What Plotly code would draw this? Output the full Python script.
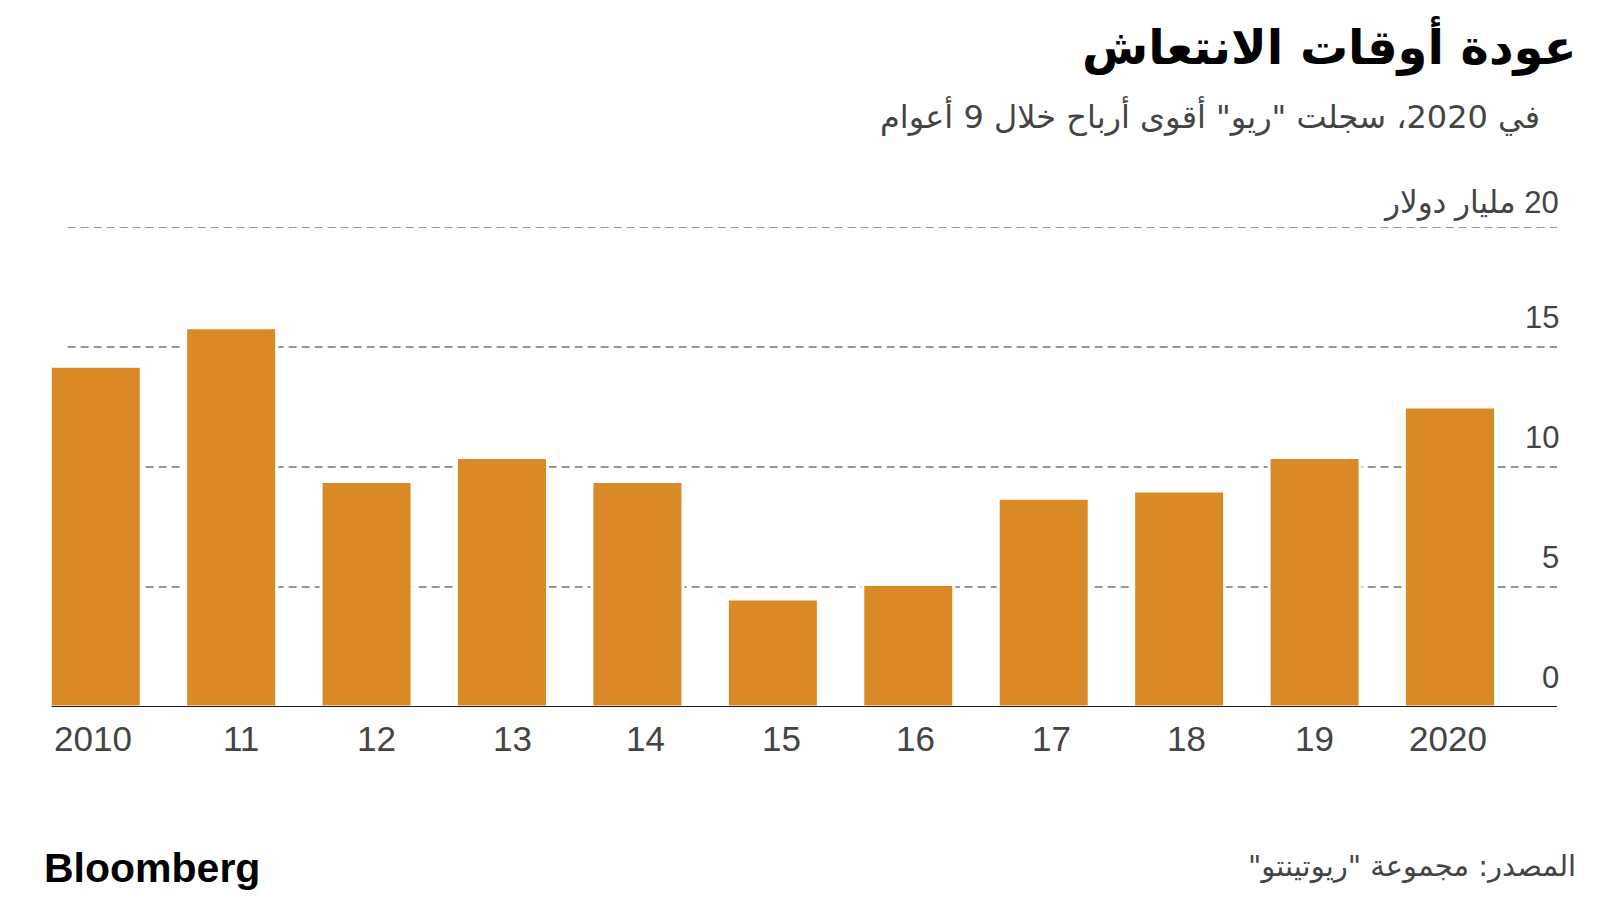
import plotly.graph_objects as go

# ---- data ----
years = ["2010", "11", "12", "13", "14", "15", "16", "17", "18", "19", "2020"]
profit_bn_usd = [14.2, 15.8, 9.4, 10.4, 9.4, 4.5, 5.1, 8.7, 9.0, 10.4, 12.5]
y_ticks = [0, 5, 10, 15, 20]
y_tick_labels = ["0", "5", "10", "15", "20 مليار دولار"]

title_text = "عودة أوقات الانتعاش"
subtitle_text = 'في 2020، سجلت "ريو" أقوى أرباح خلال 9 أعوام'
source_text = 'المصدر: مجموعة "ريوتينتو"'
brand_text = "Bloomberg"

# small horizontal nudges of the year labels (style only, pixels)
label_nudge = [-3, 10, 10, 10, 8, 9, 7, 8, 7, 0, -2]

RLM = "\u200f"
OFF = 8  # page body margin
W, H = 1600 - OFF, 900 - OFF
BAR_COLOR = "#D98A27"
AR_FONT = "DejaVu Sans"
NUM_FONT = "Liberation Sans, DejaVu Sans"

def px_x(p):
    return (p - OFF) / W

def px_y(p):
    return (H - (p - OFF)) / H

xpos = list(range(len(years)))

fig = go.Figure()
fig.add_trace(go.Bar(
    x=xpos, y=profit_bn_usd, width=0.672,
    marker=dict(color=BAR_COLOR, line=dict(color="white", width=3)),
    hoverinfo="skip",
))

shapes = []
for t in y_ticks[1:]:
    shapes.append(dict(type="line", xref="paper", yref="y",
                       x0=px_x(67.7), x1=px_x(1557), y0=t, y1=t,
                       line=dict(color="#777777", width=1.6, dash="8px,5px"),
                       layer="below"))
shapes.append(dict(type="line", xref="paper", yref="y",
                   x0=px_x(51.7), x1=px_x(1557), y0=0, y1=0,
                   line=dict(color="#222222", width=2), layer="above"))

annotations = []
for t, lab in zip(y_ticks, y_tick_labels):
    annotations.append(dict(
        xref="paper", yref="y", x=px_x(1561), y=t,
        yshift=24 if t == y_ticks[-1] else 30,
        text=RLM + lab + RLM, showarrow=False, xanchor="right", yanchor="middle",
        font=dict(family=NUM_FONT, size=31, color="#444444")))
for xp, lab, nd in zip(xpos, years, label_nudge):
    annotations.append(dict(
        xref="x", yref="paper", x=xp, y=px_y(738), xshift=nd,
        text=lab, showarrow=False, xanchor="center", yanchor="middle",
        font=dict(family=NUM_FONT, size=35, color="#444444")))

annotations += [
    dict(xref="paper", yref="paper", x=px_x(1578), y=px_y(46),
         text="<b>" + RLM + title_text + RLM + "</b>", showarrow=False,
         xanchor="right", yanchor="middle",
         font=dict(family=AR_FONT, size=48, color="#000000")),
    dict(xref="paper", yref="paper", x=px_x(1542), y=px_y(116),
         text=RLM + subtitle_text + RLM, showarrow=False,
         xanchor="right", yanchor="middle",
         font=dict(family=AR_FONT, size=32, color="#444444")),
    dict(xref="paper", yref="paper", x=px_x(1578), y=px_y(866),
         text=RLM + source_text + RLM, showarrow=False,
         xanchor="right", yanchor="middle",
         font=dict(family=AR_FONT, size=29, color="#444444")),
    dict(xref="paper", yref="paper", x=px_x(42), y=px_y(868),
         text="<b>" + brand_text + "</b>", showarrow=False,
         xanchor="left", yanchor="middle",
         font=dict(family="Liberation Sans", size=41, color="#000000")),
]

fig.update_layout(
    width=W, height=H,
    margin=dict(l=0, r=0, t=0, b=0),
    paper_bgcolor="white", plot_bgcolor="white",
    showlegend=False,
    xaxis=dict(domain=[px_x(51.7), px_x(1557)], range=[-0.325, 10.79],
               showgrid=False, zeroline=False, showticklabels=False, ticks="",
               fixedrange=True),
    yaxis=dict(domain=[px_y(707), px_y(227)], range=[0, 20],
               showgrid=False, zeroline=False, showticklabels=False, ticks="",
               fixedrange=True),
    shapes=shapes,
    annotations=annotations,
)

fig.write_html("out.html", config={"displayModeBar": False})
